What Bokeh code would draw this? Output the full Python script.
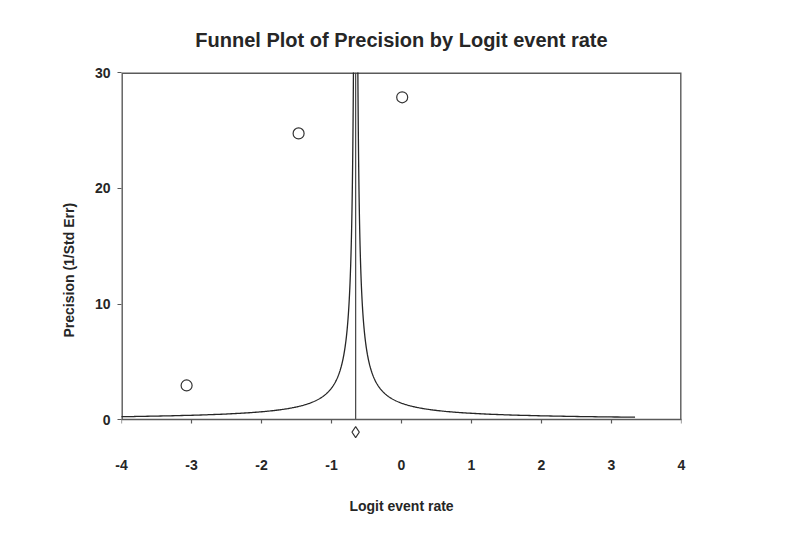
import numpy as np
from bokeh.plotting import figure
from bokeh.models import FixedTicker, LinearAxis, Title, Range1d
from bokeh.embed import file_html
from bokeh.resources import INLINE

# ---- data ----
study_logit = [-3.07, -1.47, 0.01]          # Logit event rate of each study
study_precision = [2.98, 24.74, 27.86]      # 1/Std Err of each study
summary_logit = [-0.655]                    # combined estimate (mean line + diamond)
summary_marker_y = [-1.05]                  # diamond drawn below the axis
funnel_halfwidth = 0.95                     # funnel: x = mean +/- k / precision
funnel_min_precision = 0.238
x_ticks = [-4, -3, -2, -1, 0, 1, 2, 3, 4]
y_ticks = [0, 10, 20, 30]

FONT = "Liberation Sans"
INK = "#262626"
AXC = "#5a5a5a"

p = figure(width=800, height=536, output_backend="svg", toolbar_location=None,
           x_range=Range1d(-4, 4), y_range=Range1d(-1.86, 30),
           min_border_left=121, min_border_right=119,
           min_border_top=72, min_border_bottom=95,
           title="Funnel Plot of Precision by Logit event rate")
p.outline_line_color = None
p.grid.visible = False
p.background_fill_color = "white"
p.border_fill_color = "white"

p.title.align = "center"
p.title.text_font = FONT
p.title.text_font_size = "20px"
p.title.text_font_style = "bold"
p.title.text_color = INK
p.title.standoff = 43

# frame: left, top and right sides (bottom side is the axis at y = 0)
p.line([x_ticks[0], x_ticks[0], x_ticks[-1], x_ticks[-1]],
       [y_ticks[0], y_ticks[-1], y_ticks[-1], y_ticks[0]],
       line_color=AXC, line_width=2.8)

# funnel
prec = np.geomspace(funnel_min_precision, 40, 400)
m = summary_logit[0]
p.line(m - funnel_halfwidth / prec, prec, line_color=INK, line_width=1.3)
p.line(m + funnel_halfwidth / prec, prec, line_color=INK, line_width=1.3)

# mean line
p.segment(x0=summary_logit, y0=[y_ticks[0]], x1=summary_logit, y1=[y_ticks[-1]],
          line_color="#444444", line_width=1.2)

# studies
p.scatter(study_logit, study_precision, marker="circle", size=11,
          fill_color="white", line_color="#333333", line_width=1.2)

# summary diamond
p.scatter(summary_logit, summary_marker_y, marker="diamond", size=11,
          fill_color="white", line_color="#333333", line_width=1.1)

# bottom axis: tick labels + axis label
xa = p.xaxis[0]
xa.ticker = FixedTicker(ticks=x_ticks)
xa.axis_line_color = None
xa.major_tick_line_color = None
xa.minor_tick_line_color = None
xa.major_label_standoff = 12
xa.major_label_overrides = {t: str(t) for t in x_ticks}
xa.major_label_text_font = FONT
xa.major_label_text_font_size = "14px"
xa.major_label_text_font_style = "bold"
xa.major_label_text_color = INK
xa.axis_label = "Logit event rate"
xa.axis_label_text_font = FONT
xa.axis_label_text_font_size = "14px"
xa.axis_label_text_font_style = "bold"
xa.axis_label_text_color = INK
xa.axis_label_standoff = 25

# axis at y = 0 with ticks
x0 = LinearAxis(fixed_location=0, ticker=FixedTicker(ticks=x_ticks),
                axis_line_color=AXC, axis_line_width=1.4,
                major_tick_line_color=AXC, major_tick_line_width=1.2,
                major_tick_in=0, major_tick_out=4,
                minor_tick_line_color=None, major_label_text_color=None,
                major_label_text_font_size="1px")
p.add_layout(x0, "below")

# left axis
ya = p.yaxis[0]
ya.ticker = FixedTicker(ticks=y_ticks)
ya.axis_line_color = None
ya.major_tick_line_color = AXC
ya.major_tick_line_width = 1.2
ya.major_tick_in = 0
ya.major_tick_out = 4
ya.minor_tick_line_color = None
ya.major_label_standoff = 7
ya.major_label_text_font = FONT
ya.major_label_text_font_size = "14px"
ya.major_label_text_font_style = "bold"
ya.major_label_text_color = INK

p.add_layout(Title(text="Precision (1/Std Err)", align="left", offset=104,
                   standoff=30, text_font=FONT, text_font_size="14px",
                   text_font_style="bold", text_color=INK), "left")

open("out.html", "w").write(file_html(p, INLINE))
